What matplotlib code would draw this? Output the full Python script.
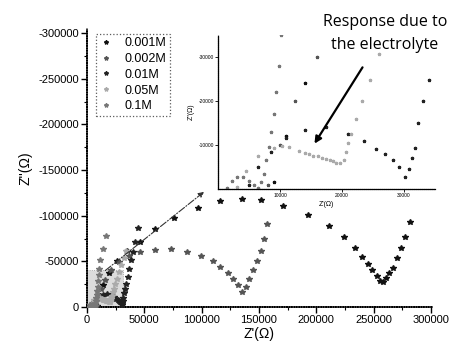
import matplotlib
matplotlib.use("Agg")
import matplotlib.pyplot as plt
from matplotlib.patches import Rectangle, FancyArrowPatch

plt.rcParams['font.family'] = ['Liberation Sans', 'DejaVu Sans']
plt.rcParams['axes.unicode_minus'] = False

labels = ["0.001M", "0.002M", "0.01M", "0.05M", "0.1M"]

# Z' (ohm) and -Z'' (ohm) for each concentration
z_001 = [9000, 11000, 14000, 19000, 26000, 35000, 46000, 59000, 76000, 97000,
         116000, 135000, 152000, 171000, 193000, 211000, 224000, 234000, 240000, 245000,
         249000, 253000, 255500, 258000, 260500, 263500, 267000, 270500, 274000, 277500,
         282000]
n_001 = [1500, 12000, 24000, 37000, 50000, 61000, 71000, 85000, 97000, 108000,
         116000, 118000, 117000, 110600, 100700, 88700, 76600, 64600, 54700, 47000,
         40500, 34000, 28500, 27500, 31800, 37200, 42700, 53700, 64600, 76600,
         93000]

z_002 = [8000, 10000, 12500, 16000, 21000, 28000, 37000, 46000, 59000, 73000,
         87000, 99500, 110000, 116000, 123000, 127000, 131500, 135000, 138500, 141000,
         145000, 148000, 151500, 154000, 157000]
n_002 = [1000, 10000, 20000, 30000, 40000, 49000, 56000, 60000, 62500, 63500,
         60000, 56000, 50000, 44000, 37000, 31000, 24000, 16500, 22000, 30700,
         40500, 50400, 61300, 74500, 90900]

z_01 = [5000, 6500, 8500, 11000, 14000, 17500, 21000, 23500, 25500, 27000,
        28200, 29200, 30200, 30800, 31300, 31700, 32200, 33000, 34000, 35500,
        37000, 38500, 40000, 42000, 44500]
n_01 = [1000, 5000, 8500, 11500, 13500, 14000, 12500, 10800, 9200, 7900,
        6600, 5000, 2700, 4500, 7000, 9400, 15000, 20000, 24700, 33000,
        42000, 51000, 60000, 71000, 86500]

z_05 = [3000, 4500, 6500, 9000, 10300, 11500, 13000, 14000, 14700, 15400,
        16100, 16800, 17400, 18000, 18500, 19100, 19700, 20300, 20700, 21000,
        21400, 22300, 23300, 24500, 26000, 28000, 30000, 32000, 34000]
n_05 = [500, 4000, 7500, 9300, 9700, 9500, 8700, 8200, 7900, 7600,
        7400, 7100, 6900, 6600, 6300, 6000, 5800, 6700, 8500, 10500,
        12500, 16000, 20000, 24700, 30600, 38000, 46000, 54000, 61000]

z_1 = [1500, 2200, 3000, 4000, 5000, 5800, 6500, 7000, 7400, 7800,
       8200, 8600, 9000, 9400, 9800, 10200, 10500, 11300, 14000, 16600]
n_1 = [200, 1800, 2700, 2700, 1900, 1000, 300, 1500, 3500, 6500,
       9500, 13000, 17000, 22000, 28000, 35000, 41600, 51500, 63500, 77700]

series = [(z_001, n_001), (z_002, n_002), (z_01, n_01), (z_05, n_05), (z_1, n_1)]
colors = ["#111111", "#555555", "#222222", "#aaaaaa", "#777777"]

main_xticks = [0, 50000, 100000, 150000, 200000, 250000, 300000]
main_yticks = [0, -50000, -100000, -150000, -200000, -250000, -300000]
inset_ticks = [10000, 20000, 30000]

fig = plt.figure(figsize=(4.56, 3.47), dpi=100)
ax = fig.add_axes([87/456, 1-307/347, 345/456, 278.5/347])

for (z, n), c, lab in zip(series, colors, labels):
    ax.plot(z, [-v for v in n], linestyle='none', marker='*', markersize=3.8,
            color=c, markeredgecolor=c, label=lab, zorder=3)

ax.set_xlim(0, 301000)
ax.set_ylim(0, -305000)
ax.set_xticks(main_xticks)
ax.set_yticks(main_yticks)
ax.set_xticks([25000, 75000, 125000, 175000, 225000, 275000], minor=True)
ax.set_yticks([-25000, -75000, -125000, -175000, -225000, -275000], minor=True)
for s in ['top', 'right']:
    ax.spines[s].set_visible(False)
for s in ['left', 'bottom']:
    ax.spines[s].set_linestyle((0, (1, 0.6)))
    ax.spines[s].set_linewidth(1.1)
ax.tick_params(axis='both', which='major', labelsize=8, length=4, width=1, pad=2)
ax.tick_params(axis='both', which='minor', length=2, width=0.8)
ax.set_xlabel("Z'(Ω)", fontsize=10, labelpad=1)
ax.set_ylabel("Z''(Ω)", fontsize=10, labelpad=4)

# zoom region and connector
ax.add_patch(Rectangle((0, 0), 31000, -40000, facecolor='#dcdcdc', edgecolor='#999999',
                       linestyle=':', linewidth=0.6, zorder=1))
ax.annotate("", xy=(104000, -128000), xytext=(14000, -38000),
            arrowprops=dict(arrowstyle='-|>', linestyle='-.', color='#333333',
                            linewidth=0.8, mutation_scale=8), zorder=4)

leg = ax.legend(loc='upper left', bbox_to_anchor=(9/345, 1.0 - 5/278.5), fontsize=9,
                frameon=True, fancybox=False, handlelength=1.0, handletextpad=1.0,
                borderpad=0.3, labelspacing=0.3, borderaxespad=0, markerscale=0.8)
leg.get_frame().set_edgecolor('#333333')
leg.get_frame().set_linestyle(':')
leg.get_frame().set_linewidth(0.9)

# inset
ins = fig.add_axes([218/456, 1-189/347, 217/456, 154/347])
ins.set_facecolor('white')
for (z, n), c in zip(series, colors):
    ins.plot(z, [-v for v in n], linestyle='none', marker='*', markersize=2.3,
             color=c, markeredgecolor=c)
ins.set_xlim(0, 35000)
ins.set_ylim(0, -35000)
ins.set_xticks(inset_ticks)
ins.set_yticks([-t for t in inset_ticks])
for s in ['top', 'right']:
    ins.spines[s].set_visible(False)
for s in ['left', 'bottom']:
    ins.spines[s].set_linestyle((0, (1, 0.6)))
    ins.spines[s].set_linewidth(0.9)
ins.tick_params(axis='both', labelsize=3.5, length=2, width=0.6, pad=1)
ins.set_xlabel("Z'(Ω)", fontsize=5, labelpad=2)
ins.set_ylabel("Z''(Ω)", fontsize=5, labelpad=3)

fig.text(385/456, 1-22/347, "Response due to", fontsize=11.5, ha='center', va='center',
         family=['Open Sans', 'DejaVu Sans'])
fig.text(385/456, 1-45/347, "the electrolyte", fontsize=11.5, ha='center', va='center',
         family=['Open Sans', 'DejaVu Sans'])
fig.add_artist(FancyArrowPatch(
    (364/456, 1-65/347), (313/456, 1-146/347), transform=fig.transFigure,
    arrowstyle='-|>', mutation_scale=10, color='black', linewidth=1.6))

fig.savefig("out.png", dpi=100)
